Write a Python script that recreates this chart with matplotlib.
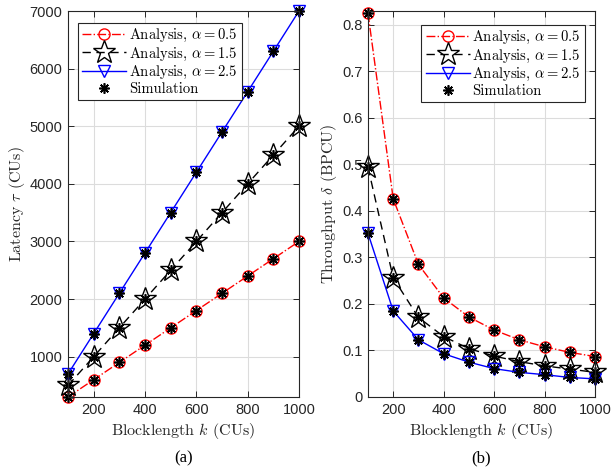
import numpy as np
import matplotlib
matplotlib.use("Agg")
import matplotlib.pyplot as plt
from matplotlib.ticker import FuncFormatter

plt.rcParams['mathtext.fontset'] = 'cm'
plt.rcParams['font.family'] = ['Liberation Sans', 'DejaVu Sans']
plt.rcParams['axes.unicode_minus'] = False

# --- data ---
k = [100, 200, 300, 400, 500, 600, 700, 800, 900, 1000]

# (a) latency tau (CUs)
tau_a05 = [300, 600, 900, 1200, 1500, 1800, 2100, 2400, 2700, 3000]
tau_a15 = [500, 1000, 1500, 2000, 2500, 3000, 3500, 4000, 4500, 5000]
tau_a25 = [700, 1400, 2100, 2800, 3500, 4200, 4900, 5600, 6300, 7000]

# (b) throughput delta (BPCU)
thr_a05 = [0.825, 0.426, 0.285, 0.213, 0.172, 0.144, 0.123, 0.108, 0.096, 0.087]
thr_a15 = [0.494, 0.256, 0.171, 0.130, 0.104, 0.088, 0.076, 0.067, 0.060, 0.053]
thr_a25 = [0.352, 0.185, 0.123, 0.093, 0.075, 0.061, 0.053, 0.048, 0.042, 0.039]

labels = [r'Analysis, $\alpha=0.5$', r'Analysis, $\alpha=1.5$',
          r'Analysis, $\alpha=2.5$', 'Simulation']

GRAY = '#262626'
SERIF = 'cmr10'
ASTER = (8, 2, 0)

fig = plt.figure(figsize=(6.13, 4.70), dpi=100)
W, H = 613.0, 470.0
ax1 = fig.add_axes([68 / W, 1 - 397 / H, (299 - 68) / W, (397 - 11) / H])
ax2 = fig.add_axes([368 / W, 1 - 397 / H, (595 - 368) / W, (397 - 11) / H])


def draw(ax, s1, s2, s3):
    h1, = ax.plot(k, s1, '-.', color='red', lw=1.0, marker='o', ms=8,
                  mfc='none', mec='red', mew=1.0, clip_on=False)
    h2, = ax.plot(k, s2, '--', color='black', lw=1.0, marker='*', ms=17,
                  mfc='none', mec='black', mew=1.0, dashes=(6, 4), clip_on=False)
    h3, = ax.plot(k, s3, '-', color='blue', lw=1.0, marker='v', ms=9,
                  mfc='none', mec='blue', mew=1.0, clip_on=False)
    for s in (s1, s2, s3):
        hs, = ax.plot(k, s, linestyle='none', marker=ASTER, ms=7.5,
                      color='black', mew=1.2, clip_on=False)
    return [h1, h2, h3, hs]


def style(ax):
    ax.grid(True, color='#dcdcdc', lw=0.8)
    ax.set_axisbelow(True)
    ax.tick_params(direction='in', top=True, right=True, length=4,
                   labelsize=10.5, colors=GRAY, width=0.7, pad=4)
    for sp in ax.spines.values():
        sp.set_color(GRAY)
        sp.set_linewidth(0.8)
    ax.set_xlim(100, 1000)
    ax.set_xticks([200, 400, 600, 800, 1000])
    ax.set_xlabel(r'Blocklength $k$ (CUs)', family=SERIF, fontsize=11.5,
                  color=GRAY, labelpad=3)


hd = draw(ax1, tau_a05, tau_a15, tau_a25)
style(ax1)
ax1.set_ylim(300, 7000)
ax1.set_yticks([1000, 2000, 3000, 4000, 5000, 6000, 7000])
ax1.set_ylabel(r'Latency $\tau$ (CUs)', family=SERIF, fontsize=11.5,
               color=GRAY, labelpad=2)

draw(ax2, thr_a05, thr_a15, thr_a25)
style(ax2)
ax2.set_ylim(0, 0.83)
ax2.set_yticks(np.arange(0, 0.81, 0.1))
ax2.yaxis.set_major_formatter(FuncFormatter(lambda v, p: '%g' % round(v, 2)))
ax2.set_ylabel(r'Throughput $\delta$ (BPCU)', family=SERIF, fontsize=11.5,
               color=GRAY, labelpad=2)

leg_kw = dict(prop={'family': SERIF, 'size': 10.5}, fancybox=False,
              edgecolor=GRAY, framealpha=1, borderaxespad=0,
              handlelength=3.0, handletextpad=0.2, labelspacing=0.08,
              borderpad=0.3)
l1 = ax1.legend(hd, labels, loc='upper left', bbox_to_anchor=(0.043, 0.969), **leg_kw)
l2 = ax2.legend(hd, labels, loc='upper right', bbox_to_anchor=(0.956, 0.964), **leg_kw)
for lg in (l1, l2):
    lg.get_frame().set_linewidth(0.8)
    lg.set_zorder(5)

fig.text(183.5 / W, 1 - 458 / H, '(a)', family='Liberation Serif', fontsize=12,
         ha='center', va='center')
fig.text(481.5 / W, 1 - 458 / H, '(b)', family='Liberation Serif', fontsize=12,
         ha='center', va='center')

fig.savefig('out.png', dpi=100)
